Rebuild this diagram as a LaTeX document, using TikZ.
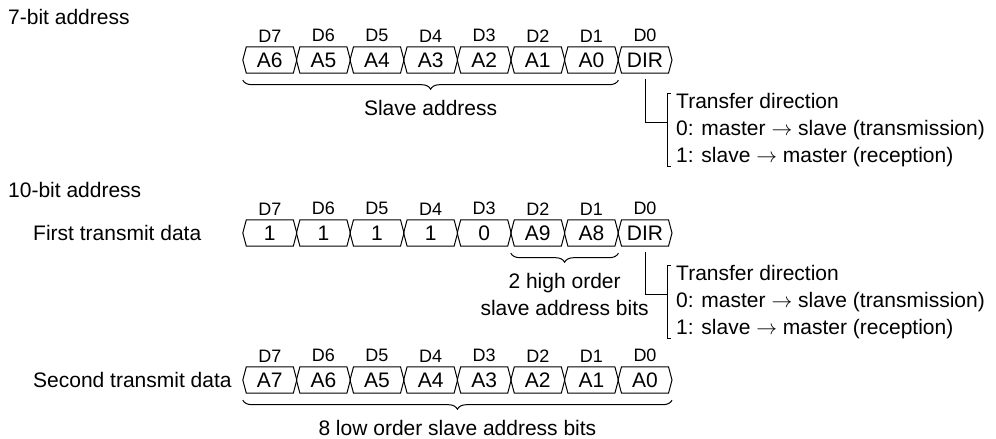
\documentclass[tikz,border=0pt]{standalone}
\usepackage{fontspec}
\setmainfont{Liberation Sans}
\usepackage{tikz}
\usetikzlibrary{positioning,decorations.pathreplacing}

\begin{document}
\begin{tikzpicture}[
  x=1pt, y={(0pt,-1pt)},
  txt/.style={inner sep=0pt, font=\fontsize{21}{27}\selectfont},
  title/.style={txt, anchor=west},
  bitcell/.style={txt, minimum width=53.6pt, minimum height=26pt},
  bitnum/.style={inner sep=0pt, font=\fontsize{18}{22}\selectfont},
  celledge/.style={line width=1pt, line join=miter},
  bytebrace/.style={decorate, decoration={brace, mirror, amplitude=9pt}, line width=1pt},
  bracetext/.style={txt, align=center, midway, below=19.5pt},
  note/.style={txt, align=left, anchor=west},
  link/.style={line width=1pt}
]
\useasboundingbox (0,0) rectangle (996,439);

\node[title] (seventitle) at (8,17) {7-bit address};
\node[title] (tentitle) at (8,190) {10-bit address};
\node[title] (firstlbl) at (33,233) {First transmit data};
\node[title] (secondlbl) at (33,380) {Second transmit data};

% byte rows
\foreach \rw/\yc/\bits in {sev/60/{A6,A5,A4,A3,A2,A1,A0,DIR},
                           fst/233/{1,1,1,1,0,A9,A8,DIR},
                           snd/380/{A7,A6,A5,A4,A3,A2,A1,A0}} {
  \foreach \txt [count=\i from 0] in \bits {
    \pgfmathtruncatemacro\bit{7-\i}
    \node[bitcell] (\rw\bit) at ({269.8+53.6*\i},\yc) {\txt};
    \node[bitnum, above=4.5pt of \rw\bit] (\rw-d\bit) {D\bit};
    \draw[celledge] (\rw\bit.west) -- ([xshift=3.5pt]\rw\bit.north west)
      -- ([xshift=-3.5pt]\rw\bit.north east) -- (\rw\bit.east)
      -- ([xshift=-3.5pt]\rw\bit.south east) -- ([xshift=3.5pt]\rw\bit.south west) -- cycle;
  }
}

% braces
\draw[bytebrace] ([yshift=-7pt]sev7.south west) -- ([yshift=-7pt]sev1.south east)
  node[bracetext] (slavelbl) {Slave address};
\draw[bytebrace] ([yshift=-7pt]fst2.south west) -- ([yshift=-7pt]fst1.south east)
  node[bracetext] (highlbl) {2 high order\\slave address bits};
\draw[bytebrace] ([yshift=-7pt]snd7.south west) -- ([yshift=-7pt]snd0.south east)
  node[bracetext] (lowlbl) {8 low order slave address bits};

% transfer direction notes
\node[note] (dirnote1) at (676,130) {Transfer direction\\0: master $\rightarrow$ slave (transmission)\\1: slave $\rightarrow$ master (reception)};
\node[note] (dirnote2) at (676,302) {Transfer direction\\0: master $\rightarrow$ slave (transmission)\\1: slave $\rightarrow$ master (reception)};

\draw[link] ([xshift=-5pt]dirnote1.north west) -- ([xshift=-9pt]dirnote1.north west)
  -- ([xshift=-9pt]dirnote1.south west) -- ([xshift=-5pt]dirnote1.south west);
\draw[link] ([xshift=-5pt]dirnote2.north west) -- ([xshift=-9pt]dirnote2.north west)
  -- ([xshift=-9pt]dirnote2.south west) -- ([xshift=-5pt]dirnote2.south west);

\draw[link] ([yshift=-6pt]sev0.south) |- ([xshift=-9pt,yshift=8pt]dirnote1.west);
\draw[link] ([yshift=-6pt]fst0.south) |- ([xshift=-9pt,yshift=8pt]dirnote2.west);
\end{tikzpicture}
\end{document}
